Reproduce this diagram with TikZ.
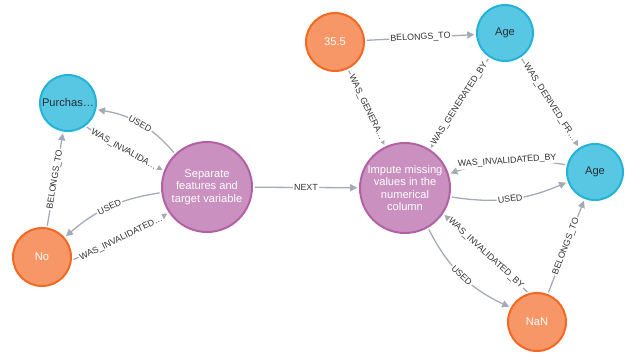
\documentclass[tikz,border=0pt]{standalone}
\usepackage{fontspec}
\setmainfont{Liberation Sans}
\usetikzlibrary{arrows.meta}
\definecolor{colfill}{HTML}{57C7E3}
\definecolor{colline}{HTML}{23B3D7}
\definecolor{valfill}{HTML}{F79767}
\definecolor{valline}{HTML}{F36924}
\definecolor{actfill}{HTML}{C990C0}
\definecolor{actline}{HTML}{B261A5}
\definecolor{relgray}{HTML}{A5ABB6}
\definecolor{reltext}{HTML}{333333}
\definecolor{coltext}{HTML}{2A2C34}
\begin{document}
\begin{tikzpicture}[x=0.03cm,y=-0.03cm,
  nd/.style={circle,line width=1.7pt,inner sep=0pt,align=center,
    font=\fontsize{9.5}{10.5}\selectfont},
  colnode/.style={nd,minimum size=1.68cm,fill=colfill,draw=colline,text=coltext},
  valnode/.style={nd,minimum size=1.74cm,fill=valfill,draw=valline,text=white},
  actnode/.style={nd,minimum size=2.7cm,fill=actfill,draw=actline,text=white},
  rel/.style={draw=relgray,line width=1.1pt,shorten >=1.5pt,shorten <=1.5pt,
    -{Triangle[length=6pt,width=6pt]}},
  lbl/.style={midway,sloped,fill=white,inner sep=1pt,text=reltext,
    font=\fontsize{7.6}{8}\selectfont}]
\useasboundingbox (0,0) rectangle (632,353);
\node[colnode] (pur) at (68,103) {Purchas…};
\node[valnode] (no) at (42,257) {No};
\node[actnode] (sep) at (207,187) {Separate\\features and\\target variable};
\node[valnode] (val) at (335,42) {35.5};
\node[colnode] (agetop) at (505,33) {Age};
\node[colnode] (ageright) at (595,172) {Age};
\node[actnode] (imp) at (405,188) {Impute missing\\values in the\\numerical\\column};
\node[valnode] (nan) at (537,322) {NaN};
\draw[rel] (sep.134) to[bend right=20] node[lbl] {USED} (pur.-13);
\draw[rel] (pur.-53) to[bend right=4] node[lbl] {WAS\_INVALIDA…} (sep.159);
\draw[rel] (no) -- node[lbl] {BELONGS\_TO} (pur);
\draw[rel] (sep.187) to[bend right=16] node[lbl] {USED} (no.41);
\draw[rel] (no.-6) to[bend right=4] node[lbl] {WAS\_INVALIDATED…} (sep.214);
\draw[rel] (sep) -- node[lbl] {NEXT} (imp);
\draw[rel] (val) -- node[lbl] {BELONGS\_TO} (agetop);
\draw[rel] (val) -- node[lbl] {WAS\_GENERA…} (imp);
\draw[rel] (agetop) -- node[lbl] {WAS\_GENERATED\_BY} (imp);
\draw[rel] (agetop) -- node[lbl] {WAS\_DERIVED\_FR…} (ageright);
\draw[rel] (ageright.166) to[bend right=14] node[lbl] {WAS\_INVALIDATED\_BY} (imp.18);
\draw[rel] (imp.-11) to[bend right=16] node[lbl] {USED} (ageright.200);
\draw[rel] (imp.-60) to[bend right=19] node[lbl] {USED} (nan.151);
\draw[rel] (nan.106) -- node[lbl] {WAS\_INVALIDATED\_BY} (imp.-34);
\draw[rel] (nan) -- node[lbl] {BELONGS\_TO} (ageright);
\end{tikzpicture}
\end{document}
